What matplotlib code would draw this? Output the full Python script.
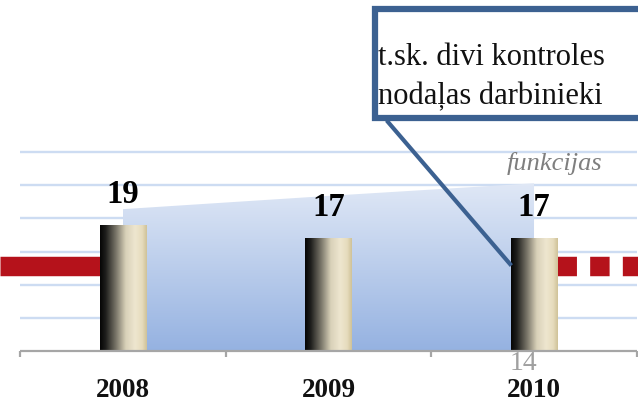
import numpy as np
import matplotlib
matplotlib.use('Agg')
import matplotlib.pyplot as plt
from matplotlib.colors import LinearSegmentedColormap
from matplotlib.patches import Rectangle, Polygon
from matplotlib.lines import Line2D

# ---- data ----
years = ['2008', '2009', '2010']
employees = [19, 17, 17]
area_values = [21.4, 23.4, 25.3]
reference_level = 12.8
grid_levels = [5, 10, 15, 20, 25, 30]
below_label = '14'
side_note = 'funkcijas'
callout_text = 't.sk. divi kontroles\nnodaļas darbinieki'

SERIF = ['Liberation Serif', 'DejaVu Serif']

fig = plt.figure(figsize=(6.38, 4.02), dpi=100)
ax = fig.add_axes([0, 0, 1, 1])
ax.axis('off')
XLIM = (-0.5985, 2.506)
YLIM = (-7.54, 53.1)

x = np.arange(len(years))
bar_w = 0.228

# gridlines
ax.hlines(grid_levels, -0.5, 2.5, color='#cddcf2', lw=1.7, zorder=1)

# red reference line: solid on left, dashed on right
red = '#b5121b'
ax.plot([XLIM[0], x[0]], [reference_level] * 2, color=red, lw=14,
        solid_capstyle='butt', zorder=2)
ax.plot([x[-1] + bar_w / 2, XLIM[1]], [reference_level] * 2, color=red, lw=14,
        linestyle=(0, (1, 0.68)), dash_capstyle='butt', zorder=2)

# gradient area
verts = [(x[0], 0)] + list(zip(x, area_values)) + [(x[-1], 0)]
poly = Polygon(verts, closed=True, facecolor='none', edgecolor='none')
ax.add_patch(poly)
area_cmap = LinearSegmentedColormap.from_list('area', ['#95b2e1', '#e0e8f6'])
grad = np.linspace(0, 1, 256)[:, None]
im = ax.imshow(grad, extent=[x[0], x[-1], 0, max(area_values)], origin='lower',
               cmap=area_cmap, aspect='auto', zorder=3, interpolation='bicubic')
im.set_clip_path(poly)

# gradient bars
bar_cmap = LinearSegmentedColormap.from_list(
    'bar', [(0.0, '#050505'), (0.12, '#1e1e1c'), (0.35, '#7d796c'),
            (0.55, '#d9d1b9'), (0.75, '#eee6cf'), (0.9, '#e6dcbd'), (1.0, '#cfc197')])
bars = ax.bar(x, employees, width=bar_w, facecolor='none', edgecolor='none', zorder=4)
hgrad = np.linspace(0, 1, 256)[None, :]
for b in bars:
    bx, bw, bh = b.get_x(), b.get_width(), b.get_height()
    bi = ax.imshow(hgrad, extent=[bx, bx + bw, 0, bh], cmap=bar_cmap,
                   aspect='auto', zorder=4, interpolation='bicubic')
    bi.set_clip_path(b)

# baseline and ticks
ax.hlines(0, -0.5, 2.5, color='#a6a6a6', lw=1.6, zorder=5)
ax.vlines([-0.5, 0.5, 1.5, 2.5], -0.9, 0, color='#a6a6a6', lw=1.6, zorder=5)

# labels
for xi, v in zip(x, employees):
    ax.text(xi, v + 4.8, str(v), ha='center', va='center', fontsize=23.5,
            fontweight='bold', family=SERIF, color='black', zorder=6)
for xi, yr in zip(x, years):
    ax.text(xi, -6.75, yr, ha='center', va='baseline', fontsize=19.5,
            fontweight='bold', family=SERIF, color='#111111', zorder=6)
ax.text(x[-1] - 0.05, -1.7, below_label, ha='center', va='center', fontsize=20,
        family=SERIF, color='#a0a0a0', zorder=6)
ax.text(2.102, 28.4, side_note, ha='center', va='center', fontsize=19,
        style='italic', family=SERIF, color='#7f7f7f', zorder=6)

ax.set_xlim(*XLIM)
ax.set_ylim(*YLIM)

# callout box
W, H = 638, 402
box_col = '#3c6191'
fig.add_artist(Rectangle((375 / W, 1 - 119 / H), 0.5, (119 - 10) / H,
                         transform=fig.transFigure, facecolor='white',
                         edgecolor=box_col, lw=4.5, zorder=10))
fig.add_artist(Line2D([388 / W, 510 / W], [1 - 123 / H, 1 - 265 / H],
                      transform=fig.transFigure, color=box_col, lw=3, zorder=10))
fig.text(378 / W, 1 - 77 / H, callout_text, ha='left', va='center', fontsize=22,
         family=SERIF, color='#111111', linespacing=1.45, zorder=11)

fig.savefig('out.png', dpi=100)
